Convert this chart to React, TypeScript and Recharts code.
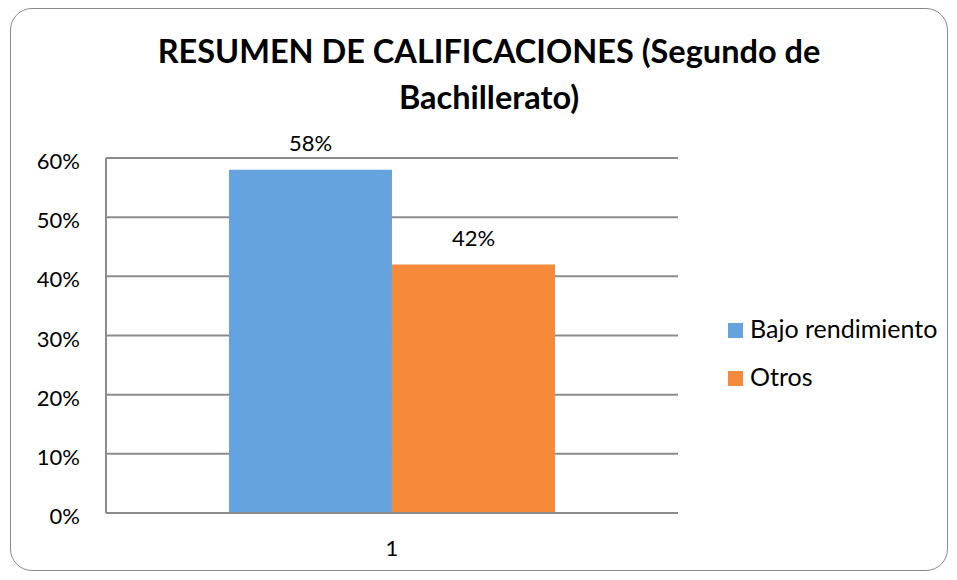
import React from "react";
import { BarChart, Bar, XAxis, YAxis, CartesianGrid, LabelList } from "recharts";

const categories = ["1"];
const bajoRendimiento = [0.58];
const otros = [0.42];
const yTicks = [0, 0.1, 0.2, 0.3, 0.4, 0.5, 0.6];
const seriesNames = ["Bajo rendimiento", "Otros"];
const seriesColors = ["#65A3DF", "#F68A3B"];
const titleLines = ["RESUMEN DE CALIFICACIONES (Segundo de", "Bachillerato)"];

const data = categories.map((c, i) => ({ cat: c, bajo: bajoRendimiento[i], otros: otros[i] }));

const FONT = "Lato, 'Noto Sans', sans-serif";
const pct = (v: number) => `${Math.round(v * 100)}%`;

const YTick = (props: any) => {
  const { y, payload } = props;
  return (
    <text x={80} y={y} dy={11} textAnchor="end" fontSize={22} fontFamily={FONT} fill="#000">
      {pct(payload.value)}
    </text>
  );
};

const XTick = (props: any) => {
  const { x, payload } = props;
  return (
    <text x={x} y={556} textAnchor="middle" fontSize={22} fontFamily={FONT} fill="#000">
      {payload.value}
    </text>
  );
};

const TopLabel = (props: any) => {
  const { x, y, width, value } = props;
  return (
    <text x={x + width / 2} y={y - 19} textAnchor="middle" fontSize={22} fontFamily={FONT} fill="#000">
      {pct(value)}
    </text>
  );
};

export default function App() {
  return (
    <div style={{ position: "absolute", left: 0, top: 0, width: 957, height: 580, background: "#fff", fontFamily: FONT }}>
      <div
        style={{
          position: "absolute",
          left: 10,
          top: 8,
          width: 936,
          height: 561,
          border: "1px solid #8a8a8a",
          borderRadius: 22,
        }}
      />
      <div style={{ position: "absolute", left: 0, top: 28, width: 978, textAlign: "center", fontWeight: 700, fontSize: 32.5, lineHeight: "46px", color: "#000" }}>
        <div style={{ whiteSpace: "nowrap" }}>{titleLines[0]}</div>
        <div style={{ whiteSpace: "nowrap" }}>{titleLines[1]}</div>
      </div>
      <div style={{ position: "absolute", left: 0, top: 0 }}>
        <BarChart
          width={957}
          height={580}
          data={data}
          margin={{ top: 158, right: 279, bottom: 0, left: 46 }}
          barCategoryGap="21.5%"
          barGap={0}
        >
          <CartesianGrid vertical={false} stroke="#8c8c8c" strokeWidth={2} />
          <XAxis
            dataKey="cat"
            axisLine={{ stroke: "#8c8c8c", strokeWidth: 2 }}
            tickLine={false}
            tick={<XTick />}
            height={67}
          />
          <YAxis
            domain={[0, 0.6]}
            ticks={yTicks}
            axisLine={{ stroke: "#8c8c8c", strokeWidth: 2 }}
            tickLine={false}
            tick={<YTick />}
            width={60}
            interval={0}
          />
          <Bar dataKey="bajo" name={seriesNames[0]} fill={seriesColors[0]} isAnimationActive={false}>
            <LabelList dataKey="bajo" content={<TopLabel />} />
          </Bar>
          <Bar dataKey="otros" name={seriesNames[1]} fill={seriesColors[1]} isAnimationActive={false}>
            <LabelList dataKey="otros" content={<TopLabel />} />
          </Bar>
        </BarChart>
      </div>
      {seriesNames.map((n, i) => (
        <React.Fragment key={n}>
          <div style={{ position: "absolute", left: 728, top: 323 + i * 48, width: 15, height: 15, background: seriesColors[i] }} />
          <div style={{ position: "absolute", left: 750, top: 314 + i * 48, fontSize: 25, lineHeight: "28px", color: "#000", whiteSpace: "nowrap" }}>{n}</div>
        </React.Fragment>
      ))}
    </div>
  );
}
